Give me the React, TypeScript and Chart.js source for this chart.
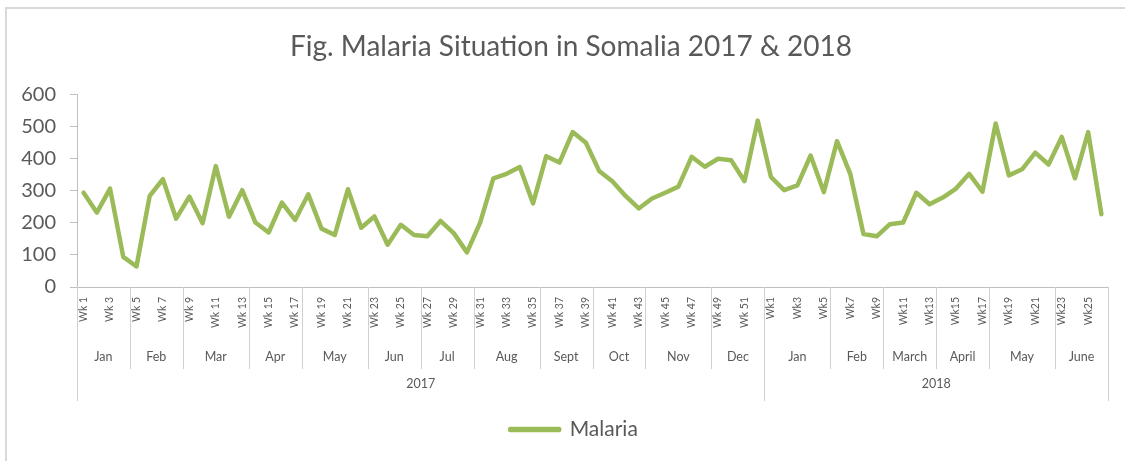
import React, { useEffect, useRef } from 'react';
import { Chart, registerables } from 'chart.js';

Chart.register(...registerables);

const weekLabels2017 = [
  'Wk 1', 'Wk 2', 'Wk 3', 'Wk 4', 'Wk 5', 'Wk 6', 'Wk 7', 'Wk 8', 'Wk 9', 'Wk 10',
  'Wk 11', 'Wk 12', 'Wk 13', 'Wk 14', 'Wk 15', 'Wk 16', 'Wk 17', 'Wk 18', 'Wk 19', 'Wk 20',
  'Wk 21', 'Wk 22', 'Wk 23', 'Wk 24', 'Wk 25', 'Wk 26', 'Wk 27', 'Wk 28', 'Wk 29', 'Wk 30',
  'Wk 31', 'Wk 32', 'Wk 33', 'Wk 34', 'Wk 35', 'Wk 36', 'Wk 37', 'Wk 38', 'Wk 39', 'Wk 40',
  'Wk 41', 'Wk 42', 'Wk 43', 'Wk 44', 'Wk 45', 'Wk 46', 'Wk 47', 'Wk 48', 'Wk 49', 'Wk 50',
  'Wk 51', 'Wk 52',
];
const weekLabels2018 = [
  'Wk1', 'Wk2', 'Wk3', 'Wk4', 'Wk5', 'Wk6', 'Wk7', 'Wk8', 'Wk9', 'Wk10',
  'Wk11', 'Wk12', 'Wk13', 'Wk14', 'Wk15', 'Wk16', 'Wk17', 'Wk18', 'Wk19', 'Wk20',
  'Wk21', 'Wk22', 'Wk23', 'Wk24', 'Wk25', 'Wk26',
];

const malaria2017 = [
  294, 232, 307, 94, 64, 284, 336, 213, 282, 199,
  377, 219, 302, 201, 170, 263, 209, 289, 182, 162,
  305, 185, 220, 132, 194, 162, 158, 206, 168, 108,
  201, 339, 353, 374, 261, 408, 388, 483, 450, 362,
  330, 284, 245, 276, 294, 313, 406, 375, 400, 395,
  330, 519,
];
const malaria2018 = [
  343, 302, 317, 410, 296, 455, 353, 165, 158, 196,
  201, 294, 258, 279, 307, 353, 297, 510, 348, 367,
  419, 382, 468, 339, 483, 227,
];

const months2017 = ['Jan', 'Feb', 'Mar', 'Apr', 'May', 'Jun', 'Jul', 'Aug', 'Sept', 'Oct', 'Nov', 'Dec'];
const monthWeeks2017 = [4, 4, 5, 4, 5, 4, 4, 5, 4, 4, 5, 4];
const months2018 = ['Jan', 'Feb', 'March', 'April', 'May', 'June'];
const monthWeeks2018 = [5, 4, 4, 4, 5, 4];
const years = ['2017', '2018'];

const TITLE = 'Fig. Malaria Situation in Somalia 2017 & 2018';
const SERIES = 'Malaria';
const FONT = 'Lato';
const TEXT = '#595959';
const AXIS = '#bfbfbf';
const SEP = '#d0d0d0';
const GREEN = '#9BBB59';

const allLabels = [...weekLabels2017, ...weekLabels2018];
const allValues = [...malaria2017, ...malaria2018];

const groupAxisPlugin = {
  id: 'groupAxis',
  afterLayout(chart: any) {
    if (chart.titleBlock) {
      chart.titleBlock.left += 9;
      chart.titleBlock.right += 9;
    }
    if (chart.legend) {
      chart.legend.left += 12;
      chart.legend.right += 12;
    }
  },
  afterDraw(chart: any) {
    const xs = chart.scales.x;
    const ctx = chart.ctx;
    const step = xs.getPixelForValue(1) - xs.getPixelForValue(0);
    const edge = (i: number) => xs.getPixelForValue(i) - step / 2;
    const axisY = chart.chartArea.bottom;
    const monthBottom = axisY + 82;
    const yearBottom = axisY + 114;
    const monthY = axisY + 70;
    const yearY = axisY + 97;

    ctx.save();
    ctx.strokeStyle = SEP;
    ctx.lineWidth = 1;
    ctx.fillStyle = TEXT;
    ctx.textAlign = 'center';
    ctx.textBaseline = 'middle';

    const line = (x: number, y0: number, y1: number) => {
      const px = Math.round(x) + 0.5;
      ctx.beginPath();
      ctx.moveTo(px, y0);
      ctx.lineTo(px, y1);
      ctx.stroke();
    };

    const yearGroups = [
      { names: months2017, counts: monthWeeks2017 },
      { names: months2018, counts: monthWeeks2018 },
    ];
    let idx = 0;
    ctx.font = `12.5px ${FONT}`;
    const yearEdges: number[] = [0];
    yearGroups.forEach((g) => {
      g.names.forEach((name, k) => {
        const start = idx;
        const end = idx + g.counts[k];
        if (k > 0) line(edge(start), axisY, monthBottom);
        ctx.fillText(name, (edge(start) + edge(end)) / 2, monthY);
        idx = end;
      });
      yearEdges.push(idx);
    });

    yearEdges.forEach((e) => line(edge(e), axisY, yearBottom));
    ctx.font = `12.5px ${FONT}`;
    years.forEach((y, k) => {
      ctx.fillText(y, (edge(yearEdges[k]) + edge(yearEdges[k + 1])) / 2, yearY);
    });
    ctx.restore();
  },
};

export default function App() {
  const canvasRef = useRef<HTMLCanvasElement | null>(null);

  useEffect(() => {
    if (!canvasRef.current) return;
    const chart = new Chart(canvasRef.current, {
      type: 'line',
      data: {
        labels: allLabels,
        datasets: [
          {
            label: SERIES,
            data: allValues,
            borderColor: GREEN,
            backgroundColor: GREEN,
            borderWidth: 4.5,
            pointRadius: 0,
            pointHoverRadius: 0,
            tension: 0,
            fill: false,
            borderJoinStyle: 'round',
            borderCapStyle: 'round',
          },
        ],
      },
      options: {
        responsive: false,
        animation: false,
        layout: { padding: { left: 16, right: 17, top: 0, bottom: 11 } },
        plugins: {
          title: {
            display: true,
            text: TITLE,
            color: TEXT,
            font: { family: FONT, size: 28, weight: 'normal' },
            padding: { top: 30, bottom: 31 },
          },
          legend: {
            display: true,
            position: 'bottom',
            labels: {
              boxWidth: 49,
              boxHeight: 1,
              padding: 10,
              color: TEXT,
              font: { family: FONT, size: 21 },
            },
          },
          tooltip: { enabled: false },
        },
        scales: {
          x: {
            type: 'category',
            offset: true,
            grid: { display: false, drawTicks: false, drawOnChartArea: false },
            border: { display: true, color: AXIS, width: 1 },
            ticks: {
              autoSkip: false,
              minRotation: 90,
              maxRotation: 90,
              padding: 10,
              color: TEXT,
              font: { family: FONT, size: 10.5 },
              callback: (_v: any, i: number) => (i % 2 === 0 ? allLabels[i] : ''),
            },
            afterFit: (scale: any) => {
              scale.height = 122;
            },
          },
          y: {
            min: 0,
            max: 600,
            ticks: {
              stepSize: 100,
              padding: 14,
              color: TEXT,
              font: { family: FONT, size: 20 },
            },
            grid: { drawOnChartArea: false, drawTicks: true, tickLength: 7, color: AXIS, lineWidth: 1 },
            border: { display: true, color: AXIS, width: 1 },
            afterFit: (scale: any) => {
              scale.width = 61;
            },
          },
        },
      } as any,
      plugins: [groupAxisPlugin],
    });
    return () => chart.destroy();
  }, []);

  return (
    <div style={{ position: 'fixed', left: 0, top: 0, width: 1125, height: 461, background: '#fff', overflow: 'hidden' }}>
      <canvas ref={canvasRef} width={1125} height={461} style={{ position: 'absolute', left: 0, top: 0 }} />
      <div
        style={{
          position: 'absolute',
          left: 5,
          top: 7,
          width: 1200,
          height: 600,
          border: '2px solid #d9d9d9',
          pointerEvents: 'none',
        }}
      />
    </div>
  );
}
